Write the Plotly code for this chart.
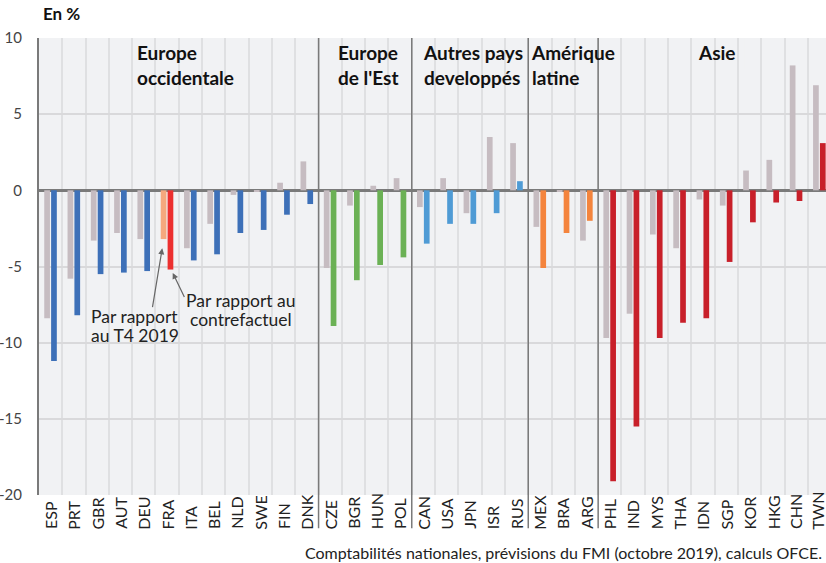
import plotly.graph_objects as go

# ---------------- data ----------------
countries = ["ESP", "PRT", "GBR", "AUT", "DEU", "FRA", "ITA", "BEL", "NLD", "SWE", "FIN", "DNK",
             "CZE", "BGR", "HUN", "POL",
             "CAN", "USA", "JPN", "ISR", "RUS",
             "MEX", "BRA", "ARG",
             "PHL", "IND", "MYS", "THA", "IDN", "SGP", "KOR", "HKG", "CHN", "TWN"]

vs_t4_2019 = [-8.4, -5.8, -3.3, -2.8, -3.2, -3.2, -3.8, -2.2, -0.3, -0.1, 0.5, 1.9,
              -5.1, -1.0, 0.3, 0.8,
              -1.1, 0.8, -1.5, 3.5, 3.1,
              -2.4, -0.1, -3.3,
              -9.7, -8.1, -2.9, -3.8, -0.6, -1.0, 1.3, 2.0, 8.2, 6.9]

vs_counterfactual = [-11.2, -8.2, -5.5, -5.4, -5.3, -5.2, -4.6, -4.2, -2.8, -2.6, -1.6, -0.9,
                     -8.9, -5.9, -4.9, -4.4,
                     -3.5, -2.2, -2.2, -1.5, 0.6,
                     -5.1, -2.8, -2.0,
                     -19.1, -15.5, -9.7, -8.7, -8.4, -4.7, -2.1, -0.8, -0.7, 3.1]

group_labels = ["Europe<br>occidentale", "Europe<br>de l'Est", "Autres pays<br>developpés",
                "Amérique<br>latine", "Asie"]
group_sizes = [12, 4, 5, 3, 10]
group_colors = ["#3d70b8", "#6bb155", "#4f9bd5", "#f4843d", "#c8202a"]

highlight = "FRA"
highlight_colors = ("#f5a87e", "#ec3030")
gray = "#c6bcc1"

y_ticks = [10, 5, 0, -5, -10, -15, -20]
y_tick_text = ["10", "5", "0", "-5", "-10", "-15", "-20"]
source_text = "Comptabilités nationales, prévisions du FMI (octobre 2019), calculs OFCE."
callout_t4 = ["Par rapport", "au T4 2019"]
callout_cf = ["Par rapport au", "contrefactuel"]

# ---------------- derived colours ----------------
cf_colors = []
for size, col in zip(group_sizes, group_colors):
    cf_colors += [col] * size
t4_colors = [gray] * len(countries)
hi = countries.index(highlight)
t4_colors[hi] = highlight_colors[0]
cf_colors[hi] = highlight_colors[1]

FONT = "Lato"
BG = "#f1f2f4"

fig = go.Figure()
fig.add_trace(go.Bar(x=countries, y=vs_t4_2019, marker=dict(color=t4_colors, line_width=0),
                     width=0.245, offset=-0.275, name="Par rapport au T4 2019"))
fig.add_trace(go.Bar(x=countries, y=vs_counterfactual, marker=dict(color=cf_colors, line_width=0),
                     width=0.245, offset=0.02, name="Par rapport au contrefactuel"))

annotations = []
shapes = []

# x category labels (rotated, bottom aligned)
for i, c in enumerate(countries):
    annotations.append(dict(x=i, y=-0.0795, xref="x", yref="paper", text=c, showarrow=False,
                            textangle=-90, xanchor="center", yanchor="bottom",
                            xshift=-2 if i == len(countries) - 1 else 0,
                            font=dict(family=FONT, size=16, color="#222")))

# group separators and labels (boxes hide the grid behind the labels)
label_left = [3.59, 12.21, 15.85, 20.49, 27.64]
mask_boxes = [(3.3, 7.6, 0.908), (11.5, 15.5, 0.908), (15.5, 20.5, 0.908),
              (20.5, 23.5, 0.908), (27.2, 29.8, 0.932)]
start = 0
for k, size in enumerate(group_sizes):
    if k > 0:
        shapes.append(dict(type="line", xref="x", yref="paper", x0=start - 0.5, x1=start - 0.5,
                           y0=-0.073, y1=1, line=dict(color="#7a7a7a", width=1.5), layer="above"))
    x0, x1, yb = mask_boxes[k]
    shapes.append(dict(type="rect", xref="x", yref="paper", x0=x0, x1=x1, y0=yb, y1=1,
                       fillcolor=BG, line_width=0, layer="between"))
    annotations.append(dict(x=label_left[k], y=1, xref="x", yref="paper",
                            text="<b>" + group_labels[k] + "</b>",
                            showarrow=False, xanchor="left", yanchor="top", align="left",
                            borderpad=2,
                            font=dict(family=FONT, size=19, color="#111")))
    start += size

# arrows
annotations.append(dict(x=4.79, y=-3.8, ax=4.36, ay=-7.76, xref="x", yref="y", axref="x", ayref="y",
                        text="", showarrow=True, arrowhead=2, arrowsize=1, arrowwidth=1.2,
                        arrowcolor="#666"))
annotations.append(dict(x=5.24, y=-5.42, ax=5.77, ay=-7.1, xref="x", yref="y", axref="x", ayref="y",
                        text="", showarrow=True, arrowhead=2, arrowsize=1, arrowwidth=1.2,
                        arrowcolor="#666"))
for line, yv in zip(callout_t4, [-8.3, -9.5]):
    annotations.append(dict(x=3.62, y=yv, xref="x", yref="y", text=line,
                            showarrow=False, xanchor="center", yanchor="middle",
                            font=dict(family=FONT, size=17.5, color="#222")))
for line, yv in zip(callout_cf, [-7.25, -8.45]):
    annotations.append(dict(x=8.17, y=yv, xref="x", yref="y", text=line,
                            showarrow=False, xanchor="center", yanchor="middle",
                            font=dict(family=FONT, size=17.5, color="#222")))

# unit + source
annotations.append(dict(x=0.002, y=1.053, xref="paper", yref="paper", text="<b>En %</b>",
                        showarrow=False, xanchor="left", yanchor="middle",
                        font=dict(family=FONT, size=17, color="#111")))
annotations.append(dict(x=0.9975, y=-0.125, xref="paper", yref="paper", text=source_text,
                        showarrow=False, xanchor="right", yanchor="middle",
                        font=dict(family=FONT, size=16, color="#222")))

fig.update_layout(
    width=826, height=563,
    margin=dict(l=39, r=0, t=38, b=68, autoexpand=False),
    paper_bgcolor="white", plot_bgcolor=BG,
    showlegend=False, barmode="overlay",
    font=dict(family=FONT, size=16, color="#333"),
    annotations=annotations, shapes=shapes,
    xaxis=dict(type="category", range=[-0.5, 33.28], tickson="boundaries", showgrid=True,
               gridcolor="#dfe0e2", gridwidth=1.5, showticklabels=False, ticks="",
               zeroline=False, showline=False, automargin=False),
    yaxis=dict(range=[-20, 10], tickvals=y_ticks, ticktext=y_tick_text,
               showgrid=True, gridcolor="#d9d9db", gridwidth=1.5,
               zeroline=True, zerolinecolor="#7a7a7a", zerolinewidth=2.5,
               showline=True, linecolor="#7a7a7a", linewidth=2, ticks="", automargin=False,
               tickfont=dict(family=FONT, size=15, color="#444"), ticklabelstandoff=12),
)

fig.write_html("out.html", config={"displayModeBar": False},
               post_script="document.body.style.margin='0';document.body.style.overflow='hidden';")
